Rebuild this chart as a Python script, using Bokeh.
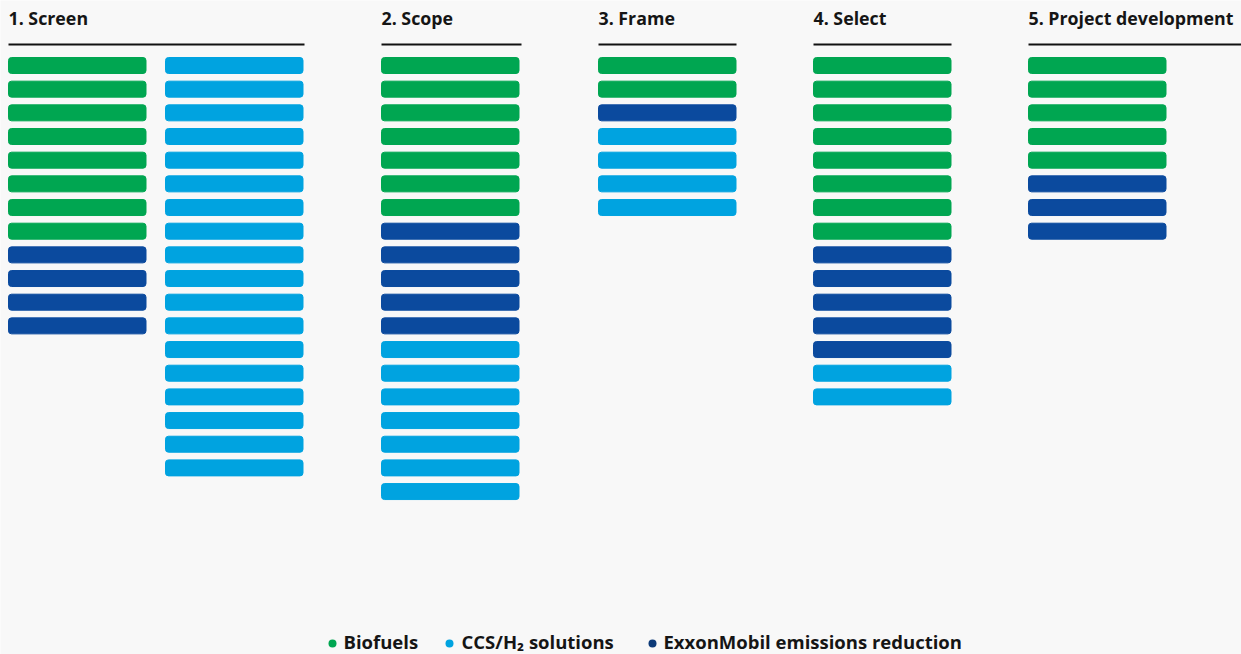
from bokeh.plotting import figure
from bokeh.models import Range1d, ColumnDataSource
from bokeh.core.properties import value
from bokeh.embed import file_html
from bokeh.resources import INLINE

# ---- data ----
stages = ["1. Screen", "2. Scope", "3. Frame", "4. Select", "5. Project development"]
biofuels = [8, 7, 2, 8, 5]
ccs_h2 = [18, 7, 4, 2, 0]
emissions = [4, 5, 1, 5, 3]
legend_labels = ["Biofuels", "CCS/H\u2082 solutions", "ExxonMobil emissions reduction"]

# ---- style / layout ----
W, H = 1241, 654
BG = "#f8f8f8"
C_GREEN = "#00a651"
C_LIGHT = "#00a3e0"
C_DARK = "#0b4a9e"
C_DARK_DOT = "#0d3a78"
FONT = "Open Sans"

col_left = [8, 381, 598, 813, 1028]
sub_col_offset = 157          # Screen: CCS/H2 in a second sub-column
bar_w = 137.5
bar_h = 16
row0 = 65
pitch = 23.67
header_right = [304, 521, 736, 951, 1241]

p = figure(width=W, height=H, output_backend="svg", toolbar_location=None,
           x_range=Range1d(0, W), y_range=Range1d(H, 0),
           background_fill_color=BG, border_fill_color=BG, min_border=0)
p.outline_line_color = None
p.axis.visible = False
p.grid.visible = False

bars = {"y": [], "left": [], "right": [], "color": []}
for i, st in enumerate(stages):
    seq = [C_GREEN] * biofuels[i] + [C_DARK] * emissions[i]
    if i == 0:
        cols = [(col_left[i], seq), (col_left[i] + sub_col_offset, [C_LIGHT] * ccs_h2[i])]
    else:
        cols = [(col_left[i], seq + [C_LIGHT] * ccs_h2[i])]
    for x0, s in cols:
        for r, c in enumerate(s):
            bars["y"].append(row0 + r * pitch)
            bars["left"].append(x0)
            bars["right"].append(x0 + bar_w)
            bars["color"].append(c)

p.hbar(y="y", left="left", right="right", height=bar_h, color="color",
       border_radius=3, source=ColumnDataSource(bars))

# headers
p.segment(x0=col_left, x1=header_right, y0=[44] * 5, y1=[44] * 5,
          line_color="#111111", line_width=2)
p.text(x=col_left, y=[17.5] * 5, text=stages, text_font=value(FONT),
       text_font_size="17.8px", text_font_style="bold", text_color="#151515",
       text_baseline="middle", text_align="left")

# legend
lx_dot = [332, 449, 652]
lx_txt = [343, 461, 663]
ly = 641
p.scatter(x=lx_dot, y=[ly + 2] * 3, size=8, marker="circle",
          color=[C_GREEN, C_LIGHT, C_DARK_DOT], line_color=None)
p.text(x=lx_txt, y=[ly] * 3, text=legend_labels, text_font=value(FONT),
       text_font_size="18.5px", text_font_style="bold", text_color="#151515",
       text_baseline="middle", text_align="left")

open("out.html", "w").write(file_html(p, INLINE))
